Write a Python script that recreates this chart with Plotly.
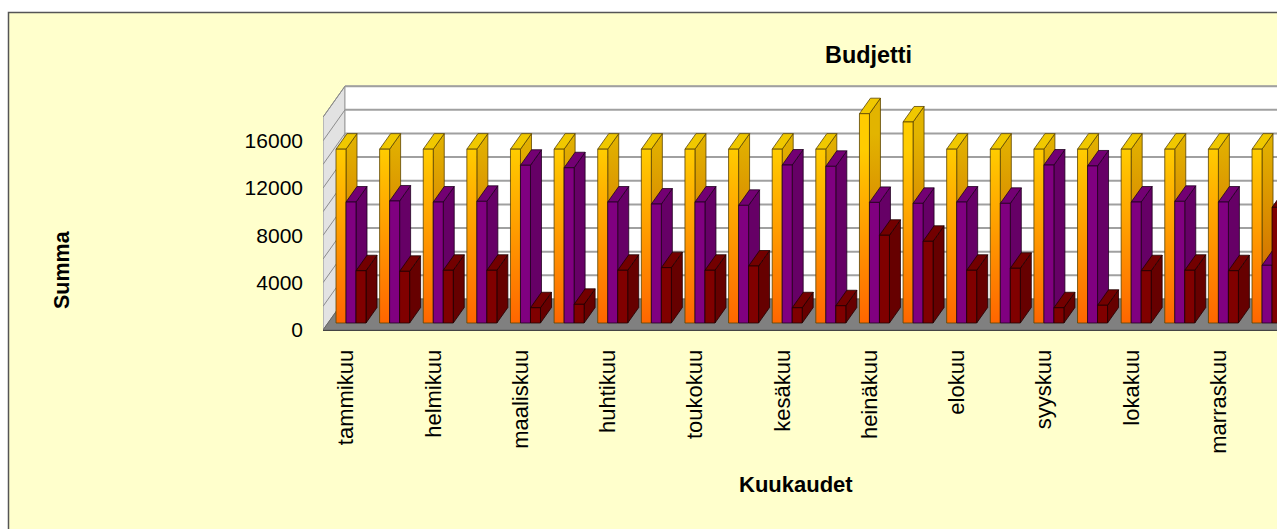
import plotly.graph_objects as go

TITLE = "Budjetti"
X_TITLE = "Kuukaudet"
Y_TITLE = "Summa"
MONTH_LABELS = ["tammikuu", "helmikuu", "maaliskuu", "huhtikuu", "toukokuu", "kesäkuu",
                "heinäkuu", "elokuu", "syyskuu", "lokakuu", "marraskuu"]
Y_TICKS = [0, 4000, 8000, 12000, 16000]

SERIES_YELLOW = [14700, 14700, 14700, 14700, 14700, 14700, 14700, 14700, 14700, 14700, 14700,
                 14700, 17700, 17000, 14700, 14700, 14700, 14700, 14700, 14700, 14700, 14700]
SERIES_PURPLE = [10230, 10320, 10230, 10290, 13340, 13130, 10230, 10060, 10230, 9950, 13360,
                 13250, 10200, 10120, 10230, 10120, 13360, 13280, 10230, 10290, 10230, 4880]
SERIES_RED = [4420, 4370, 4460, 4460, 1290, 1580, 4460, 4680, 4460, 4820, 1290,
              1460, 7420, 6910, 4460, 4630, 1290, 1500, 4420, 4460, 4420, 9780]

W, H = 1277, 529
PLOT_L, PLOT_R, PLOT_T, PLOT_B = 323, W, 80, 330
PX_PER_CAT = 43.62
PX_PER_UNIT = 23.65 / 2000
XMIN = -0.5
XMAX = XMIN + (PLOT_R - PLOT_L) / PX_PER_CAT
YMAX = (PLOT_B - PLOT_T) / PX_PER_UNIT

WALL_DX = 22 / PX_PER_CAT
WALL_DY = 31 / PX_PER_UNIT
WALL_TOP = 18000
BAR_DX = 11 / PX_PER_CAT
BAR_DY = 15.5 / PX_PER_UNIT
BAR_BASE = 7 / PX_PER_UNIT
BAR_W = 10 / PX_PER_CAT
BAR_START = 13 / PX_PER_CAT - 0.5
TICK_SHIFT = 1.5 / PX_PER_CAT

fig = go.Figure()


def poly(xs, ys, fill=None, line="#555555", width=1.0, grad=None):
    kw = dict(fillcolor=fill) if fill else {}
    if grad:
        kw["fillgradient"] = dict(type="vertical", colorscale=[[0, grad[0]], [1, grad[1]]],
                                  start=grad[2], stop=grad[3])
    fig.add_trace(go.Scatter(x=xs + xs[:1], y=ys + ys[:1], mode="lines", fill="toself",
                             line=dict(color=line, width=width), hoverinfo="skip",
                             showlegend=False, **kw))


def seg(xs, ys, color="#A0A0A0", width=2):
    fig.add_trace(go.Scatter(x=xs, y=ys, mode="lines", line=dict(color=color, width=width),
                             hoverinfo="skip", showlegend=False))


# Walls and floor
x_end = XMAX + 0.5
poly([XMIN, XMIN + WALL_DX, XMIN + WALL_DX, XMIN],
     [0, WALL_DY, WALL_DY + WALL_TOP, WALL_TOP], fill="#E2E2E2", line="#8C8C8C")
poly([XMIN + WALL_DX, x_end, x_end, XMIN + WALL_DX],
     [WALL_DY, WALL_DY, WALL_DY + WALL_TOP, WALL_DY + WALL_TOP], fill="#FFFFFF", line="#A0A0A0")
for v in range(2000, WALL_TOP + 1, 2000):
    seg([XMIN + WALL_DX, x_end], [WALL_DY + v, WALL_DY + v])
    seg([XMIN, XMIN + WALL_DX], [v, WALL_DY + v], color="#8C8C8C", width=1.0)
poly([XMIN, XMIN + WALL_DX, x_end, x_end],
     [0, WALL_DY, WALL_DY, 0], fill="#808080", line="#666666")


def bar(i, slot, value, front, side, top, edge):
    x0 = i + BAR_START + slot * BAR_W
    x1 = x0 + BAR_W
    y0 = BAR_BASE
    y1 = BAR_BASE + value
    xb = BAR_DX
    yb = BAR_DY
    side_kw = dict(grad=(side[0], side[1], BAR_BASE + BAR_DY, BAR_BASE + BAR_DY + 14700)) if isinstance(side, tuple) else dict(fill=side)
    front_kw = dict(grad=(front[0], front[1], BAR_BASE, BAR_BASE + 14700)) if isinstance(front, tuple) else dict(fill=front)
    poly([x1, x1 + xb, x1 + xb, x1], [y0, y0 + yb, y1 + yb, y1], line=edge, width=0.8, **side_kw)
    poly([x0, x1, x1 + xb, x0 + xb], [y1, y1, y1 + yb, y1 + yb], fill=top, line=edge, width=0.8)
    poly([x0, x1, x1, x0], [y0, y0, y1, y1], line=edge, width=0.8, **front_kw)


for i in range(len(SERIES_YELLOW)):
    bar(i, 0, SERIES_YELLOW[i], ("#FF6600", "#FFCC00"), ("#D06000", "#E2B400"), "#F0C800", "#5A4400")
    bar(i, 1, SERIES_PURPLE[i], "#800080", "#660066", "#730073", "#200020")
    bar(i, 2, SERIES_RED[i], "#800000", "#660000", "#730000", "#200000")

FONT = "Liberation Sans, Arial, sans-serif"
px = lambda v: (v - PLOT_L) / (PLOT_R - PLOT_L)
py = lambda v: (PLOT_B - v) / (PLOT_B - PLOT_T)

fig.update_layout(
    width=W, height=H,
    margin=dict(l=PLOT_L, r=0, t=PLOT_T, b=H - PLOT_B, pad=0),
    paper_bgcolor="#FFFFFF",
    plot_bgcolor="rgba(0,0,0,0)",
    showlegend=False,
    font=dict(family=FONT, color="#000000"),
    xaxis=dict(range=[XMIN, XMAX], tickmode="array",
               tickvals=[k + TICK_SHIFT for k in range(0, 2 * len(MONTH_LABELS), 2)], ticktext=MONTH_LABELS,
               tickangle=-90, tickfont=dict(size=22), ticks="", showgrid=False, zeroline=False,
               showline=True, linecolor="#444444", linewidth=1, ticklabelstandoff=10),
    yaxis=dict(range=[0, YMAX], tickmode="array", tickvals=Y_TICKS,
               ticktext=[str(t) for t in Y_TICKS], tickfont=dict(size=21), ticks="",
               showgrid=False, zeroline=False, showline=False, ticklabelstandoff=19),
    shapes=[dict(type="rect", xref="paper", yref="paper", layer="below",
                 x0=px(8.5), x1=px(W + 20), y0=py(H + 20), y1=py(12.5),
                 fillcolor="#FFFFCC", line=dict(color="#555555", width=1.5))],
    annotations=[
        dict(text="<b>" + TITLE + "</b>", xref="paper", yref="paper", x=px(868.5), y=py(55), showarrow=False,
             font=dict(size=23.4, family=FONT, color="#000000"), xanchor="center", yanchor="middle"),
        dict(text="<b>" + X_TITLE + "</b>", xref="paper", yref="paper", x=px(796), y=py(484), showarrow=False,
             font=dict(size=22, family=FONT, color="#000000"), xanchor="center", yanchor="middle"),
        dict(text="<b>" + Y_TITLE + "</b>", xref="paper", yref="paper", x=px(62), y=py(270), showarrow=False,
             textangle=-90, font=dict(size=21.5, family=FONT, color="#000000"),
             xanchor="center", yanchor="middle"),
    ],
)

fig.write_html("out.html", config={"displayModeBar": False},
               post_script="document.body.style.margin='0';")
